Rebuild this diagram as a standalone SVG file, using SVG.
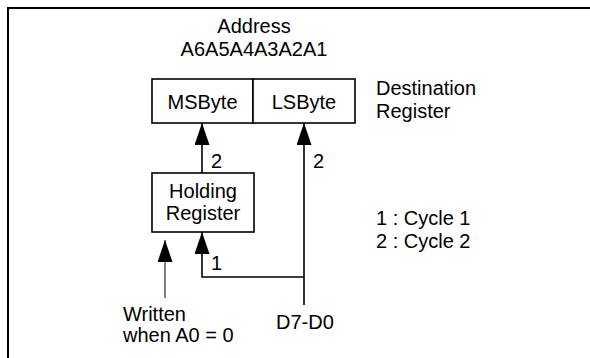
<svg xmlns="http://www.w3.org/2000/svg" width="590" height="358" viewBox="0 0 590 358">
<defs>
<style>
text{font-family:"Liberation Sans",Arial,sans-serif;font-size:20px;fill:#000}
.m{text-anchor:middle}
.box{fill:#fff;stroke:#000;stroke-width:1.6}
.ln{fill:none;stroke:#000;stroke-width:1.6}
.thin{fill:none;stroke:#000;stroke-width:1}
</style>
<marker id="ah" viewBox="0 0 22 15" refX="22" refY="7.5" markerWidth="22" markerHeight="15" markerUnits="userSpaceOnUse" orient="auto">
<path d="M0,0 L22,7.5 L0,15 Z" fill="#000"/>
</marker>
</defs>
<rect width="590" height="358" fill="#fff"/>
<path d="M7,8 H590 M8,7 V358" stroke="#000" stroke-width="2" fill="none"/>
<g id="address">
<text class="m" x="254" y="33">Address</text>
<text class="m" x="254" y="56">A6A5A4A3A2A1</text>
</g>
<g id="msbyte">
<rect class="box" x="152" y="79" width="101" height="44"/>
<text class="m" x="202.5" y="109">MSByte</text>
</g>
<g id="lsbyte">
<rect class="box" x="253" y="79" width="102" height="44"/>
<text class="m" x="304" y="109">LSByte</text>
</g>
<g id="dest-label">
<text x="376" y="95">Destination</text>
<text x="376" y="118">Register</text>
</g>
<g id="holding">
<rect class="box" x="152" y="173" width="102" height="59"/>
<text class="m" x="203" y="198">Holding</text>
<text class="m" x="203" y="220">Register</text>
</g>
<g id="legend">
<text x="376" y="225">1 : Cycle 1</text>
<text x="376" y="248">2 : Cycle 2</text>
</g>
<g id="written">
<text x="123" y="321">Written</text>
<text x="123" y="342">when A0 = 0</text>
</g>
<g id="data">
<text x="276" y="329">D7-D0</text>
</g>
<g id="connectors">
<path class="ln" d="M202,173 V123" marker-end="url(#ah)"/>
<path class="ln" d="M304,305 V123" marker-end="url(#ah)"/>
<path class="ln" d="M304,277 H202 V232" marker-end="url(#ah)"/>
<path class="thin" d="M165,298 V240" marker-end="url(#ah)"/>
<text x="211" y="168">2</text>
<text x="313" y="168">2</text>
<text x="211" y="270">1</text>
</g>
</svg>
